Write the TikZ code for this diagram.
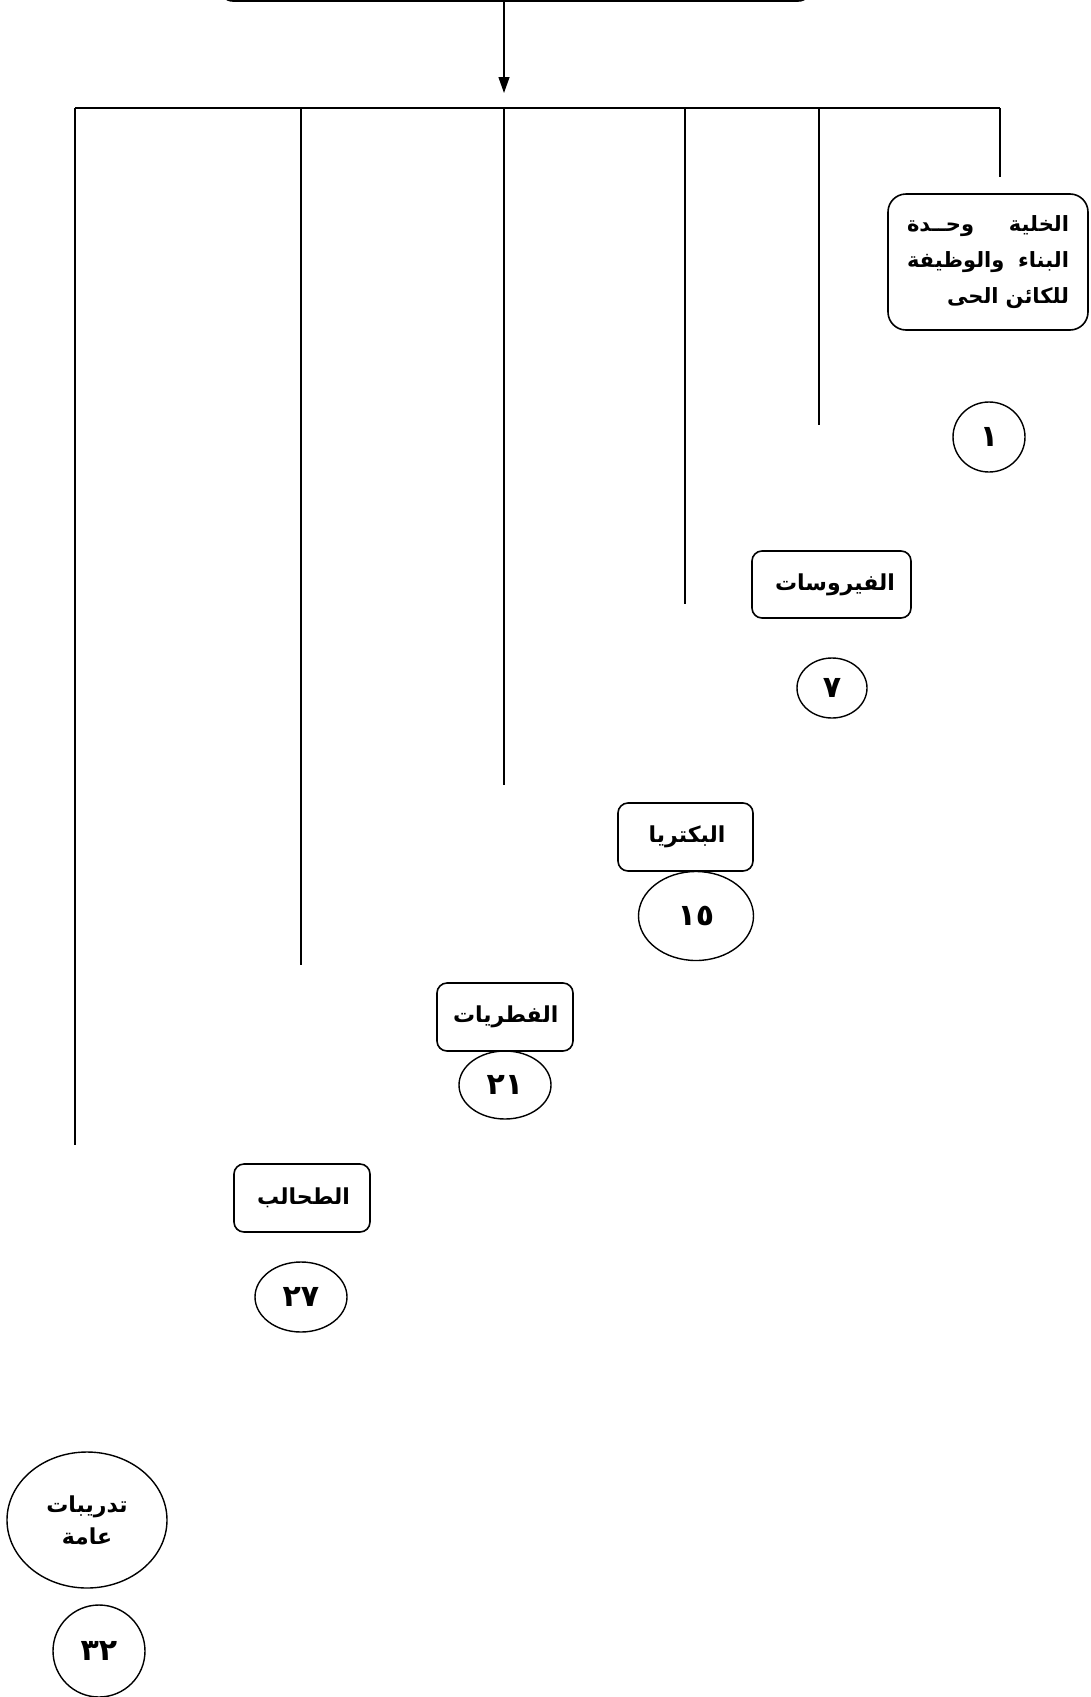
\documentclass[tikz,border=0pt]{standalone}
\usepackage{fontspec}
\usetikzlibrary{arrows.meta,shapes.geometric}
\TeXXeTstate=1
\newfontfamily\arabicfont[Script=Arabic]{DejaVu Sans}
\tikzset{
  conn/.style={line width=1.3pt},
  lbox/.style={draw, line width=1.6pt, rounded corners=10pt, inner sep=0pt, align=right,
    font=\arabicfont\bfseries\fontsize{22}{36}\selectfont},
  num/.style={draw, ellipse, line width=1.4pt, inner sep=0pt,
    font=\arabicfont\bfseries\fontsize{30}{34}\selectfont},
}
\begin{document}
\begin{tikzpicture}[x=1pt,y=-1pt]
\useasboundingbox (0,0) rectangle (1090,1697);
\clip (0,0) rectangle (1090,1697);
% top box (only its bottom edge visible)
\node[draw, line width=1.6pt, rounded corners=14pt, minimum width=593pt, minimum height=44pt] (top) at (515.5,-21) {};
\coordinate (tip) at (504,93);
\draw[conn,-{Triangle[length=16pt,width=11pt]}] (top.south -| tip) -- (tip);
% bus
\coordinate (b1) at (75,108);
\coordinate (b2) at (301,108);
\coordinate (b3) at (504,108);
\coordinate (b4) at (685,108);
\coordinate (b5) at (819,108);
\coordinate (b6) at (1000,108);
\coordinate (e1) at (75,1145);
\coordinate (e2) at (301,965);
\coordinate (e3) at (504,785);
\coordinate (e4) at (685,604);
\coordinate (e5) at (819,425);
\coordinate (e6) at (1000,177);
\draw[conn] (b1) -- (b6);
\foreach \i in {1,...,6} \draw[conn] (b\i) -- (e\i);
% boxes
\node[lbox, rounded corners=18pt, minimum width=200pt, minimum height=136pt, text width=162pt,
  font=\arabicfont\bfseries\fontsize{21}{36}\selectfont] (cell) at (988,262)
  {\leavevmode\hbox to 162pt{\beginR الخلية\hfill وحــدة\endR}\\
   \leavevmode\hbox to 162pt{\beginR البناء\hfill والوظيفة\endR}\\
   \leavevmode\hbox to 162pt{\hfill\beginR للكائن الحى\endR}};
\node[lbox, minimum width=159pt, minimum height=67pt, text width=127pt] (vir) at (831.5,584.5) {\beginR الفيروسات\endR};
\node[lbox, minimum width=135pt, minimum height=68pt, text width=80pt] (bac) at (685.5,837) {\beginR البكتريا\endR};
\node[lbox, minimum width=136pt, minimum height=68pt, text width=104pt] (fun) at (505,1017) {\beginR الفطريات\endR};
\node[lbox, minimum width=136pt, minimum height=68pt, text width=96pt] (alg) at (302,1198) {\beginR الطحالب\endR};
\node[num, minimum width=160pt, minimum height=136pt, align=center,
  font=\arabicfont\bfseries\fontsize{22}{32}\selectfont] (gen) at (87,1520)
  {\beginR تدريبات\endR\\\beginR عامة\endR};
% page numbers
\node[num, minimum width=72pt, minimum height=70pt] (n1) at (989,437) {١};
\node[num, minimum width=70pt, minimum height=60pt] (n7) at (832,688) {٧};
\node[num, minimum width=115pt, minimum height=89pt] (n15) at (696,916) {١٥};
\node[num, minimum width=92pt, minimum height=68pt] (n21) at (505,1085) {٢١};
\node[num, minimum width=92pt, minimum height=70pt] (n27) at (301,1297) {٢٧};
\node[num, minimum width=92pt, minimum height=92pt] (n32) at (99,1651) {٣٢};
\end{tikzpicture}
\end{document}
